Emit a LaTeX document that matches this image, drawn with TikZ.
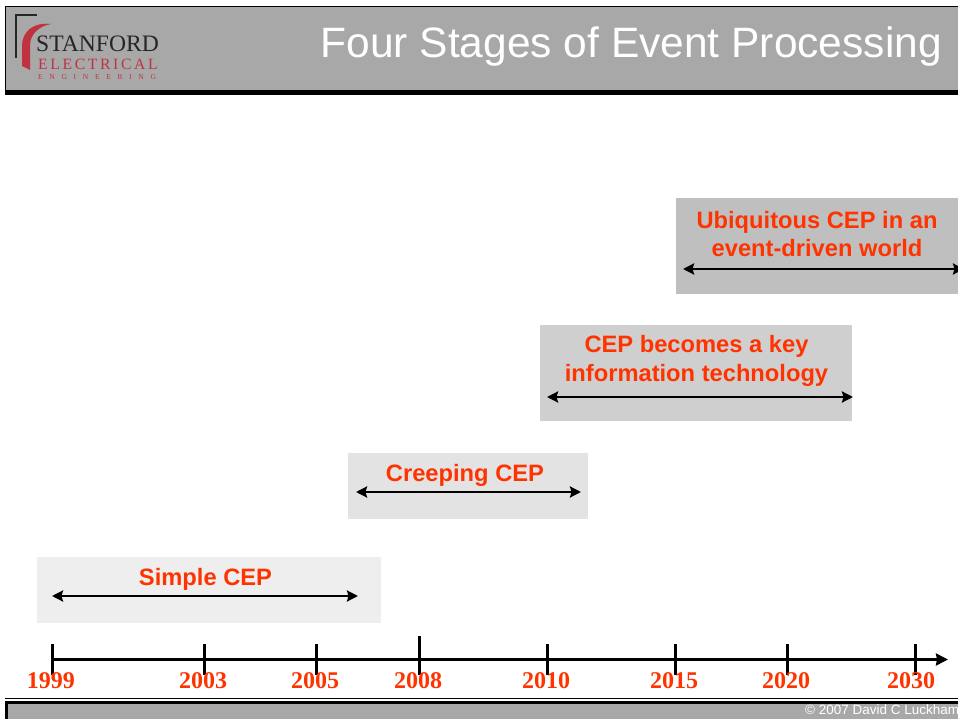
\documentclass[tikz,border=0pt]{standalone}
\usepackage{fontspec}
\setmainfont{Liberation Sans}
\newfontfamily\serifface{Liberation Serif}
\usetikzlibrary{arrows.meta}
\definecolor{hdrgray}{HTML}{A8A8A8}
\definecolor{cepred}{HTML}{FF3300}
\definecolor{logored}{HTML}{C0323F}
\tikzset{
  x=1pt,y=-1pt,
  stagebox/.style={fill=#1,draw=none,anchor=north west,inner sep=0pt},
  stagetext/.style={text=cepred,font=\fontsize{23.7}{28.5}\selectfont\bfseries,align=center,inner sep=0pt,anchor=center},
  span/.style={draw=black,line width=2.6pt,{Stealth[length=11pt,width=11pt,inset=1.5pt]}-{Stealth[length=11pt,width=11pt,inset=1.5pt]}},
  tick/.style={draw=black,line width=3pt},
  yearlabel/.style={text=cepred,font=\serifface\fontsize{24}{24}\selectfont\bfseries,inner sep=0pt,anchor=center},
}
\begin{document}
\begin{tikzpicture}
\useasboundingbox (0,0) rectangle (958,719);
\fill[white] (0,0) rectangle (958,719);
% header
\fill[hdrgray] (5,7) rectangle (958,90);
\draw[black,line width=0.8pt] (5.4,94) -- (5.4,6.6) -- (958,6.6);
\fill[black] (5,90) rectangle (958,95);
\node[text=white,font=\fontsize{42.5}{42.5}\selectfont,anchor=east,inner sep=0pt] (title) at (942,47) {Four Stages of Event Processing};
% logo
\draw[black!85,line width=2pt] (16,58) -- (16,15) -- (37,15);
\fill[logored] (22,66) -- (22,46) .. controls (22,31) and (34,22) .. (51,24) .. controls (40,26) and (30,33) .. (30,46) -- (30,70) -- cycle;
\node[text=black!85,font=\serifface\fontsize{23.6}{24}\selectfont,anchor=west,inner sep=0pt] (logoa) at (36,44) {STANFORD};
\node[text=logored,font=\serifface\fontsize{15.7}{15.7}\selectfont,anchor=west,inner sep=0pt] (logob) at (38,64) {E\,L\,E\,C\,T\,R\,I\,C\,A\,L};
\node[text=logored,font=\serifface\fontsize{7.5}{7.5}\selectfont,anchor=west,inner sep=0pt] (logoc) at (38,77.5) {E\hspace{6.7pt}N\hspace{6.7pt}G\hspace{6.7pt}I\hspace{6.7pt}N\hspace{6.7pt}E\hspace{6.7pt}E\hspace{6.7pt}R\hspace{6.7pt}I\hspace{6.7pt}N\hspace{6.7pt}G};
% stage boxes
\node[stagebox=black!6.5,minimum width=344pt,minimum height=66pt] (b1) at (37,557) {};
\node[stagebox=black!11,minimum width=240pt,minimum height=66pt] (b2) at (348,453) {};
\node[stagebox=black!19,minimum width=312pt,minimum height=96pt] (b3) at (540,325) {};
\node[stagebox=black!25,minimum width=282pt,minimum height=96pt] (b4) at (676,198) {};
% stage labels
\node[stagetext] (t1) at (205.5,579) {Simple CEP};
\node[stagetext] (t2) at (465,475) {Creeping CEP};
\node[stagetext] (t3) at (696.5,361) {CEP becomes a key\\information technology};
\node[stagetext] (t4) at (817,234) {Ubiquitous CEP in an\\event-driven world};
% spans
\coordinate (s1a) at (52,596); \coordinate (s1b) at (358,596);
\coordinate (s2a) at (356,492); \coordinate (s2b) at (581,492);
\coordinate (s3a) at (547,397); \coordinate (s3b) at (853,397);
\coordinate (s4a) at (683,269); \coordinate (s4b) at (964,269);
\draw[span] (s1a) -- (s1b);
\draw[span] (s2a) -- (s2b);
\draw[span] (s3a) -- (s3b);
\draw[span] (s4a) -- (s4b);
% axis
\coordinate (axa) at (52,659.5); \coordinate (axb) at (948,659.5);
\draw[draw=black,line width=2.6pt,-{Stealth[length=12pt,width=12pt,inset=1pt]}] (axa) -- (axb);
\foreach \px/\yr/\ytop in {52.5/1999/644,204/2003/644,316/2005/644,419.5/2008/636,547.5/2010/644,675/2015/644,787/2020/644,915/2030/644}{
  \draw[tick] (\px,\ytop) -- (\px,675);
}
\foreach \px/\yr in {51/1999,203/2003,315/2005,418/2008,546/2010,674/2015,786/2020,911/2030}{
  \node[yearlabel] (y\yr) at (\px,680.5) {\yr};
}
% footer
\draw[black,line width=1.2pt] (5,698.5) -- (958,698.5);
\fill[hdrgray] (5,701) rectangle (958,719);
\fill[black] (5,701) rectangle (958,704);
\fill[black] (5,701) rectangle (8,719);
\node[text=white,font=\fontsize{13.5}{13.5}\selectfont,anchor=west,inner sep=0pt] (copy) at (805,709.5) {© 2007 David C Luckham};
\end{tikzpicture}
\end{document}
